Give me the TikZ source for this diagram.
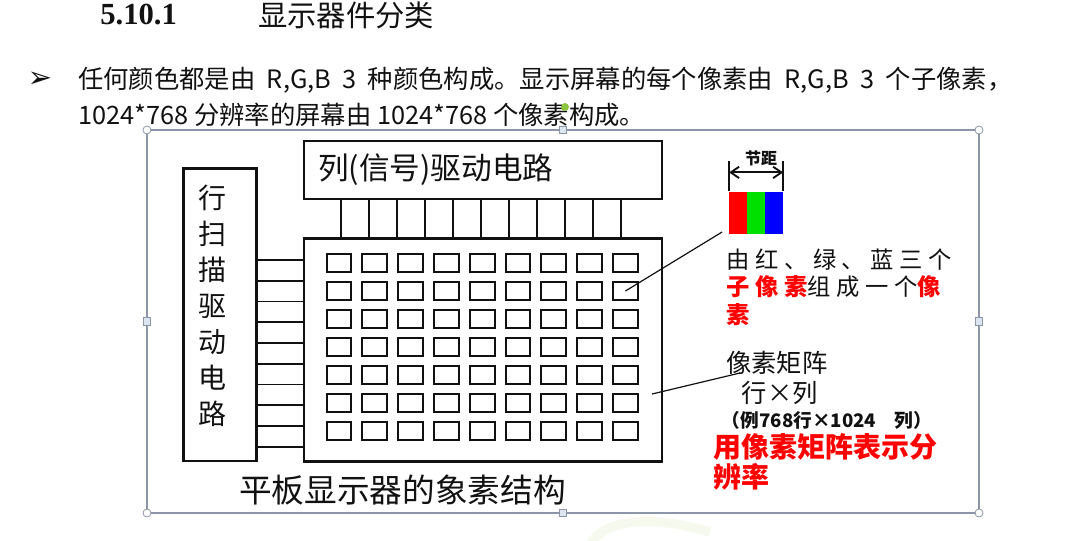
\documentclass[tikz,border=0pt]{standalone}
\usepackage{fontspec}
\setmainfont{Noto Sans CJK SC}
\newfontfamily\widecjk{Noto Sans CJK SC}[LetterSpace=24]
\newfontfamily\numserif{Liberation Serif}
\newfontfamily\dingfont{DejaVu Sans}
\usetikzlibrary{arrows.meta,positioning}
\definecolor{ink}{HTML}{111111}
\definecolor{hot}{HTML}{FF0000}
\definecolor{subg}{HTML}{00E000}
\definecolor{subb}{HTML}{0000FF}
\definecolor{frame}{HTML}{8C96A8}
\definecolor{knob}{HTML}{DCE6F2}
\definecolor{lime}{HTML}{8DC63F}
\definecolor{wash}{HTML}{F6F9EE}
\tikzset{
  box/.style={draw=ink,line width=1.6pt,inner sep=0pt},
  pix/.style={draw=ink,line width=1.4pt,minimum width=18.6pt,minimum height=13pt,inner sep=0pt},
  wire/.style={draw=ink,line width=1.4pt},
  ptr/.style={draw=ink,line width=.9pt},
  lbl/.style={inner sep=0pt,text=ink},
  note/.style={lbl,anchor=west,font=\fontsize{19}{23}\selectfont},
  spread/.style={lbl,anchor=west,font=\widecjk\fontsize{17.5}{21}\selectfont},
  alarm/.style={lbl,anchor=west,text=hot,font=\bfseries\fontsize{21}{25}\selectfont},
  subpx/.style={minimum width=13.1pt,minimum height=32pt,inner sep=0pt},
  knobc/.style={circle,draw=frame,fill=white,line width=.6pt,minimum size=6pt,inner sep=0pt},
  knobs/.style={draw=frame,fill=knob,line width=.6pt,minimum size=5.5pt,inner sep=0pt},
}

\begin{document}
\begin{tikzpicture}[x=.75pt,y=-.75pt]
  \useasboundingbox (0,0) rectangle (1074,540);
  % heading and bullet
  \node[lbl,anchor=west,font=\numserif\bfseries\fontsize{23}{27}\selectfont] (secno) at (100,15) {5.10.1};
  \node[lbl,anchor=west,font=\fontsize{22}{26}\selectfont] (sectitle) at (258,15) {显示器件分类};
  \node[lbl,font=\dingfont\bfseries\fontsize{22}{24}\selectfont] (bul) at (40,80) {➢};
  \node[lbl,anchor=west,font=\fontsize{19}{23}\selectfont] (line1) at (78,80) {任何颜色都是由\ \ R,G,B\ \ 3\ \ 种颜色构成。显示屏幕的每个像素由\ \ R,G,B\ \ 3\ \ 个子像素，};
  \node[lbl,anchor=west,font=\fontsize{19}{23}\selectfont] (line2) at (78,115) {1024*768 分辨率的屏幕由 1024*768 个像素构成。};

  % selected picture frame
  \draw[wash,line width=7pt] (590,545) .. controls (602,520) and (650,514) .. (710,532);
  \draw[frame,line width=.8pt] (147,130) rectangle (979,513);
  \foreach \p [count=\i] in {(147,130),(979,130),(147,513),(979,513)}
    \node[knobc] (kc\i) at \p {};
  \foreach \p [count=\i] in {(563,130),(147,321.5),(979,321.5),(563,513)}
    \node[knobs] (ks\i) at \p {};
  \node[circle,fill=lime,minimum size=6pt,inner sep=0pt] (rot) at (565,107) {};

  % drivers and panel
  \node[box,minimum width=54.75pt,minimum height=219.4pt] (rowdrv) at (220,314.75) {};
  \node[lbl,align=center,font=\fontsize{21}{27}\selectfont] (rowtxt) at (212,305.5) {行\\扫\\描\\驱\\动\\电\\路};
  \node[box,minimum width=268.5pt,minimum height=43.5pt] (coldrv) at (483.3,170) {};
  \node[lbl,anchor=west,font=\fontsize{23}{27}\selectfont] (coltxt) at ([xshift=11pt]coldrv.west) {列(信号)驱动电路};
  \node[box,minimum width=268.5pt,minimum height=167.3pt] (panel) at (483.3,350) {};
  \foreach \i in {0,...,10}
    \draw[wire] (341+\i*27.97,0 |- coldrv.south) -- (341+\i*27.97,0 |- panel.north);
  \foreach \j in {0,...,9}
    \draw[wire] (rowdrv.east |- 0,260+\j*20.74) -- (panel.west |- 0,260+\j*20.74);
  \foreach \r in {1,...,7}
    \foreach \c in {1,...,9}
      \node[pix] (px-\r-\c) at (303.2+\c*35.8, 235+\r*28) {};
  \node[lbl,font=\fontsize{24.5}{28}\selectfont] (caption) at (402.5,490) {平板显示器的象素结构};

  % one pixel = three sub-pixels
  \node[subpx,fill=hot] (sr) at (738.1,213) {};
  \node[subpx,fill=subg,right=0pt of sr] (sg) {};
  \node[subpx,fill=subb,right=0pt of sg] (sb) {};
  \coordinate[above=22.5pt of sr.north west] (pl);
  \coordinate[above=22.5pt of sb.north east] (pr);
  \coordinate[above=14.25pt of sr.north west] (al);
  \coordinate[above=14.25pt of sb.north east] (ar);
  \draw[ink,line width=1.1pt] (sr.north west) -- (pl);
  \draw[ink,line width=1.1pt] (sb.north east) -- (pr);
  \draw[ink,line width=1.4pt,{Straight Barb[length=2.2mm,width=3mm]}-{Straight Barb[length=2.2mm,width=3mm]}] (al) -- (ar);
  \node[lbl,font=\bfseries\fontsize{12}{14}\selectfont] (pitch) at (761,158) {节距};
  \draw[ptr] (px-2-9.center) -- ([shift={(-7,-2.6)}]sr.south west);

  % notes
  \node[spread] (rgb1) at (726,260) {由红、绿、蓝三个};
  \node[spread] (rgb2) at (726,286.7) {\textcolor{hot}{\bfseries 子像素}组成一个\textcolor{hot}{\bfseries 像}};
  \node[spread,text=hot] (rgb3) at (726,315) {\bfseries 素};
  \node[note] (mat1) at (726,363.3) {像素矩阵};
  \node[note] (mat2) at (741.7,393.3) {行×列};
  \node[note,font=\bfseries\fontsize{14}{17}\selectfont] (mat3) at (721.7,420) {（例768行×1024\quad 列）};
  \node[alarm] (res1) at (713,447) {用像素矩阵表示分};
  \node[alarm] (res2) at (713,477) {辨率};
  \coordinate (pm) at (652,394);
  \draw[ptr] (pm) -- ([shift={(14,9.7)}]mat1.west);
\end{tikzpicture}
\end{document}
